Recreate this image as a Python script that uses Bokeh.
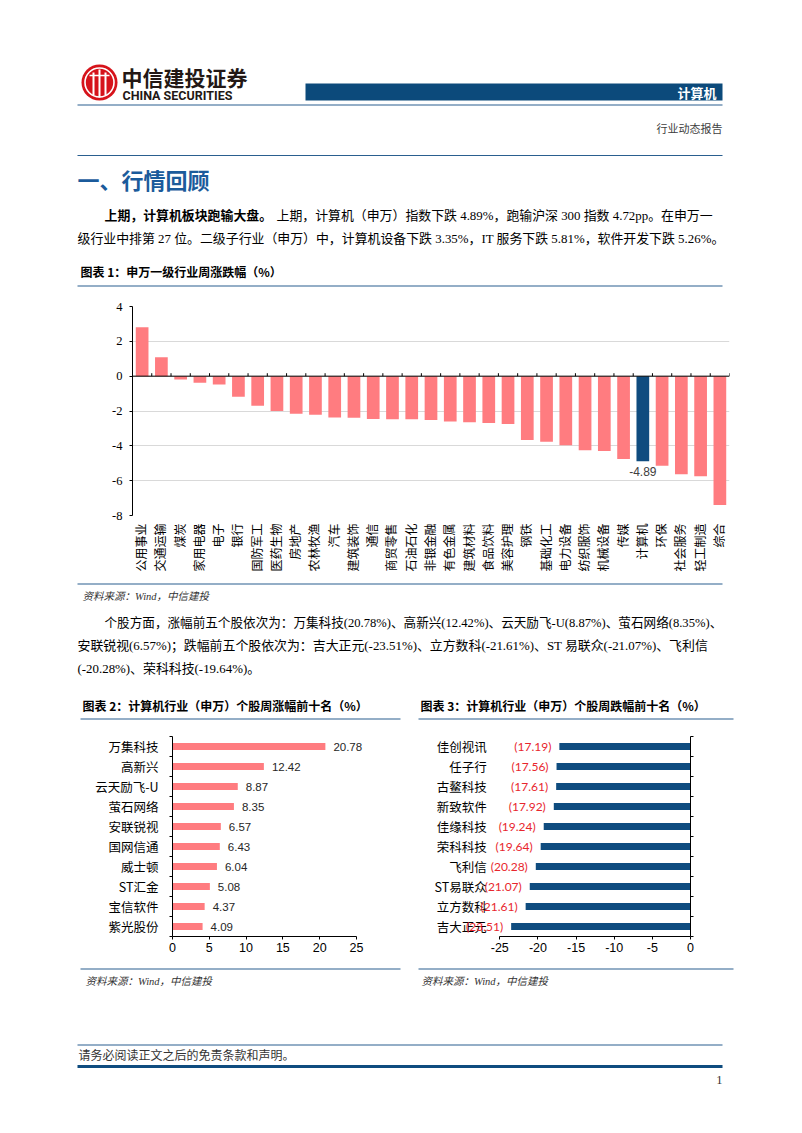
import math
from bokeh.plotting import figure
from bokeh.layouts import column, row
from bokeh.models import Range1d, LinearAxis, FixedTicker, Span
from bokeh.core.properties import value
from bokeh.embed import file_html
from bokeh.resources import INLINE

# ---------------- data ----------------
industries = ["公用事业", "交通运输", "煤炭", "家用电器", "电子", "银行", "国防军工", "医药生物",
              "房地产", "农林牧渔", "汽车", "建筑装饰", "通信", "商贸零售", "石油石化", "非银金融",
              "有色金属", "建筑材料", "食品饮料", "美容护理", "钢铁", "基础化工", "电力设备",
              "纺织服饰", "机械设备", "传媒", "计算机", "环保", "社会服务", "轻工制造", "综合"]
industry_chg = [2.81, 1.09, -0.19, -0.38, -0.48, -1.18, -1.70, -2.00, -2.16, -2.21, -2.37, -2.39,
                -2.46, -2.47, -2.47, -2.52, -2.60, -2.65, -2.69, -2.75, -3.66, -3.76, -3.97, -4.26,
                -4.29, -4.75, -4.89, -5.15, -5.63, -5.74, -7.40]
highlight = "计算机"
y1_ticks = [-8, -6, -4, -2, 0, 2, 4]

gainers = ["万集科技", "高新兴", "云天励飞-U", "萤石网络", "安联锐视", "国网信通", "威士顿", "ST汇金", "宝信软件", "紫光股份"]
gainer_chg = [20.78, 12.42, 8.87, 8.35, 6.57, 6.43, 6.04, 5.08, 4.37, 4.09]
x2_ticks = [0, 5, 10, 15, 20, 25]

losers = ["佳创视讯", "任子行", "古鳌科技", "新致软件", "佳缘科技", "荣科科技", "飞利信", "ST易联众", "立方数科", "吉大正元"]
loser_chg = [-17.19, -17.56, -17.61, -17.92, -19.24, -19.64, -20.28, -21.07, -21.61, -23.51]
x3_ticks = [-25, -20, -15, -10, -5, 0]

# ---------------- styles ----------------
SERIF = "Liberation Serif, Noto Sans CJK SC"
CJK = "Noto Sans CJK SC"
SALMON = "#ff7c80"
NAVY = "#0f4c7f"
LINE = "#2a5f8f"
W = 802


def deco(y0, y1, x0=0, x1=W):
    p = figure(width=x1 - x0, height=y1 - y0, x_range=Range1d(x0, x1), y_range=Range1d(y1, y0),
               min_border=0, x_axis_location=None, y_axis_location=None, title=None,
               toolbar_location=None, output_backend="svg", outline_line_color=None)
    p.grid.visible = False
    return p


def txt(p, x, y, s, size, font=SERIF, color="#000000", style="normal", align="left", baseline="middle"):
    p.text(x=[x], y=[y], text=[s], text_font=value(font), text_font_size=f"{size}px",
           text_font_style=style, text_color=color, text_align=align, text_baseline=baseline)


def hline(p, x0, x1, y, color=LINE, width=1.0):
    p.segment(x0=[x0], x1=[x1], y0=[y], y1=[y], line_color=color, line_width=width)


def plain_labels(ticks):
    return {t: str(t) for t in ticks}


# ---------------- band A: header + paragraph + chart1 title ----------------
A = deco(0, 290)
A.circle(x=[99], y=[82], radius=18, fill_color="#d6131b", line_color=None)
A.circle(x=[99], y=[82], radius=14.5, fill_color=None, line_color="white", line_width=1.6)
A.segment(x0=[93, 99, 105], x1=[93, 99, 105], y0=[72, 69, 72], y1=[95, 97, 95], line_color="white", line_width=2)
A.segment(x0=[89], x1=[109], y0=[75], y1=[75], line_color="white", line_width=1.6)
txt(A, 121, 76, "中信建投证券", 21, font=CJK, color="#231815", style="bold")
txt(A, 122, 94.5, "CHINA SECURITIES", 12.5, font="Roboto", color="#231815", style="bold")
A.quad(left=[305], right=[722], top=[83], bottom=[100], fill_color="#0c4a7b", line_color=None)
txt(A, 716, 91.5, "计算机", 13, font=CJK, color="white", style="bold", align="right")
hline(A, 77, 722, 104.5, width=1.2)
txt(A, 722, 128, "行业动态报告", 11, color="#404040", align="right")
hline(A, 77, 722, 155, width=1.2)
txt(A, 77, 178, "一、行情回顾", 22, font=CJK, color="#1b5b9b", style="bold")
txt(A, 104, 215, "上期，计算机板块跑输大盘。", 12.9, style="bold")
txt(A, 276, 215, "上期，计算机（申万）指数下跌 4.89%，跑输沪深 300 指数 4.72pp。在申万一", 12.9)
txt(A, 77, 238, "级行业中排第 27 位。二级子行业（申万）中，计算机设备下跌 3.35%，IT 服务下跌 5.81%，软件开发下跌 5.26%。", 12.9)
txt(A, 80, 271, "图表 1：申万一级行业周涨跌幅（%）", 12, font=CJK, style="bold")
hline(A, 77, 722, 285.5, width=1.2)

# ---------------- band B: chart 1 ----------------
n1 = len(industries)
pos1 = [i + 0.5 for i in range(n1)]
C1 = figure(width=W, height=288, x_range=Range1d(0, n1), y_range=Range1d(-8, 4),
            min_border_left=132, min_border_right=73, min_border_top=16, min_border_bottom=63,
            toolbar_location=None, output_backend="svg", outline_line_color=None, title=None)
colors1 = [NAVY if c == highlight else SALMON for c in industries]
C1.vbar(x=pos1, top=industry_chg, width=0.66, fill_color=colors1, line_color=None)
C1.yaxis.ticker = FixedTicker(ticks=y1_ticks)
C1.yaxis.major_label_overrides = plain_labels(y1_ticks)
C1.yaxis.major_label_text_font = "Liberation Serif"
C1.yaxis.major_label_text_font_size = "12.5px"
C1.yaxis.major_label_text_color = "#000000"
C1.yaxis.axis_line_color = "black"
C1.yaxis.major_tick_line_color = "black"
C1.yaxis.major_tick_out = 3
C1.yaxis.major_tick_in = 0
C1.yaxis.minor_tick_line_color = None
C1.yaxis.major_label_standoff = 7
C1.ygrid.grid_line_color = "#d9d9d9"
C1.xgrid.visible = False
C1.xaxis.ticker = FixedTicker(ticks=pos1)
C1.xaxis.major_label_overrides = {p: c for p, c in zip(pos1, industries)}
C1.xaxis.major_label_orientation = math.pi / 2
C1.xaxis.major_label_text_font = SERIF
C1.xaxis.major_label_text_font_size = "12px"
C1.xaxis.major_label_text_color = "#000000"
C1.xaxis.axis_line_color = None
C1.xaxis.major_tick_line_color = None
C1.xaxis.minor_tick_line_color = None
C1.xaxis.major_tick_out = 0
C1.xaxis.major_label_standoff = 8
C1.add_layout(Span(location=0, dimension="width", line_color="black", line_width=1))
C1.segment(x0=list(range(n1 + 1)), x1=list(range(n1 + 1)), y0=0, y1=0.17,
           line_color="black", line_width=1)
hi = industries.index(highlight)
C1.text(x=[pos1[hi]], y=[industry_chg[hi]], text=[f"{industry_chg[hi]:.2f}"], text_align="center",
        text_baseline="top", y_offset=6, text_font=value("Liberation Sans"), text_font_size="12px",
        text_color="#404040")

# ---------------- band C: source + paragraph 2 ----------------
Cb = deco(578, 690)
hline(Cb, 77, 722, 583.5, width=1.2)
txt(Cb, 82, 596, "资料来源：Wind，中信建投", 10.5, color="#333333", style="italic")
txt(Cb, 104, 622, "个股方面，涨幅前五个股依次为：万集科技(20.78%)、高新兴(12.42%)、云天励飞-U(8.87%)、萤石网络(8.35%)、", 12.6)
txt(Cb, 77, 645, "安联锐视(6.57%)；跌幅前五个股依次为：吉大正元(-23.51%)、立方数科(-21.61%)、ST 易联众(-21.07%)、飞利信", 12.9)
txt(Cb, 77, 668, "(-20.28%)、荣科科技(-19.64%)。", 12.9)

# ---------------- band D1: chart titles ----------------
D1 = deco(690, 725)
txt(D1, 82, 705, "图表 2：计算机行业（申万）个股周涨幅前十名（%）", 12, font=CJK, style="bold")
txt(D1, 420, 705, "图表 3：计算机行业（申万）个股周跌幅前十名（%）", 12, font=CJK, style="bold")
hline(D1, 80, 400, 718.5, width=1.2)
hline(D1, 418, 733, 718.5, width=1.2)


def hchart(names, vals, xr, xbounds, xticks, left, right, bar_color):
    n = len(names)
    ypos = [n - i - 0.5 for i in range(n)]          # first name on top
    p = figure(width=401, height=237, x_range=Range1d(*xr), y_range=Range1d(0, n),
               y_axis_location=None, min_border_left=left, min_border_right=right,
               min_border_top=11, min_border_bottom=26, toolbar_location=None,
               output_backend="svg", outline_line_color=None, title=None)
    p.grid.visible = False
    p.hbar(y=ypos, left=[min(v, 0) for v in vals], right=[max(v, 0) for v in vals],
           height=0.36, fill_color=bar_color, line_color=None)
    p.xaxis.ticker = FixedTicker(ticks=xticks)
    p.xaxis.major_label_overrides = plain_labels(xticks)
    p.xaxis.bounds = xbounds
    p.xaxis.major_label_text_font = "Liberation Sans"
    p.xaxis.major_label_text_font_size = "12.5px"
    p.xaxis.major_label_text_color = "#000000"
    p.xaxis.axis_line_color = "black"
    p.xaxis.major_tick_line_color = "black"
    p.xaxis.major_tick_out = 3
    p.xaxis.major_tick_in = 0
    p.xaxis.minor_tick_line_color = None
    p.xaxis.major_label_standoff = 3
    return p, ypos


# chart 2 (frame extended past 25 so value labels are not clipped; axis bounded to 0..25)
C2, ypos2 = hchart(gainers, gainer_chg, (0, 28), (0, 25), x2_ticks, 172, 23, SALMON)
n2 = len(gainers)
C2.add_layout(LinearAxis(ticker=FixedTicker(ticks=sorted(ypos2), minor_ticks=list(range(n2 + 1))),
                         major_label_overrides={y: s for y, s in zip(ypos2, gainers)},
                         major_label_text_font=CJK, major_label_text_font_size="12.5px",
                         major_label_text_color="#000000", major_label_standoff=11,
                         major_tick_out=0, major_tick_in=0, major_tick_line_color=None,
                         minor_tick_out=3, minor_tick_in=0, minor_tick_line_color="black",
                         axis_line_color="black"), "left")
C2.text(x=gainer_chg, y=ypos2, text=[f"{v:.2f}" for v in gainer_chg], x_offset=8,
        text_baseline="middle", text_font=value("Liberation Sans"), text_font_size="11.5px",
        text_color="#262626")

# chart 3 (frame extended left of -25 so category & value labels fit; axis bounded to -25..0)
C3, ypos3 = hchart(losers, loser_chg, (-35, 0), (-25, 0), x3_ticks, 22, 112, NAVY)
n3 = len(losers)
C3.add_layout(LinearAxis(ticker=FixedTicker(ticks=[], minor_ticks=list(range(n3 + 1))),
                         major_label_text_font_size="0px", major_tick_out=0, major_tick_in=0,
                         minor_tick_out=3, minor_tick_in=0, minor_tick_line_color="black",
                         axis_line_color="black"), "right")
C3.text(x=[x3_ticks[0]] * n3, y=ypos3, text=losers, x_offset=-13, text_align="right",
        text_baseline="middle", text_font=value(CJK), text_font_size="12.5px", text_color="#000000")
C3.text(x=loser_chg, y=ypos3, text=[f"({abs(v):.2f})" for v in loser_chg], x_offset=-8,
        text_align="right", text_baseline="middle", text_font=value("Lato"), text_font_size="12px",
        text_color="#e8262d")

# ---------------- band D3: sources + footer ----------------
D3 = deco(962, 1130)
hline(D3, 80, 400, 968.5, width=1.2)
hline(D3, 418, 733, 968.5, width=1.2)
txt(D3, 85, 981, "资料来源：Wind，中信建投", 10.5, color="#333333", style="italic")
txt(D3, 421, 981, "资料来源：Wind，中信建投", 10.5, color="#333333", style="italic")
hline(D3, 77, 722, 1044.5, width=1.2)
txt(D3, 78, 1055, "请务必阅读正文之后的免责条款和声明。", 12, color="#333333")
hline(D3, 77, 722, 1066, color="#0f4c7f", width=3)
txt(D3, 722, 1079, "1", 12.5, color="#333333", align="right")

page = column(row(A), row(C1), row(Cb), row(D1), row(C2, C3), row(D3))
open("out.html", "w").write(file_html(page, INLINE))
